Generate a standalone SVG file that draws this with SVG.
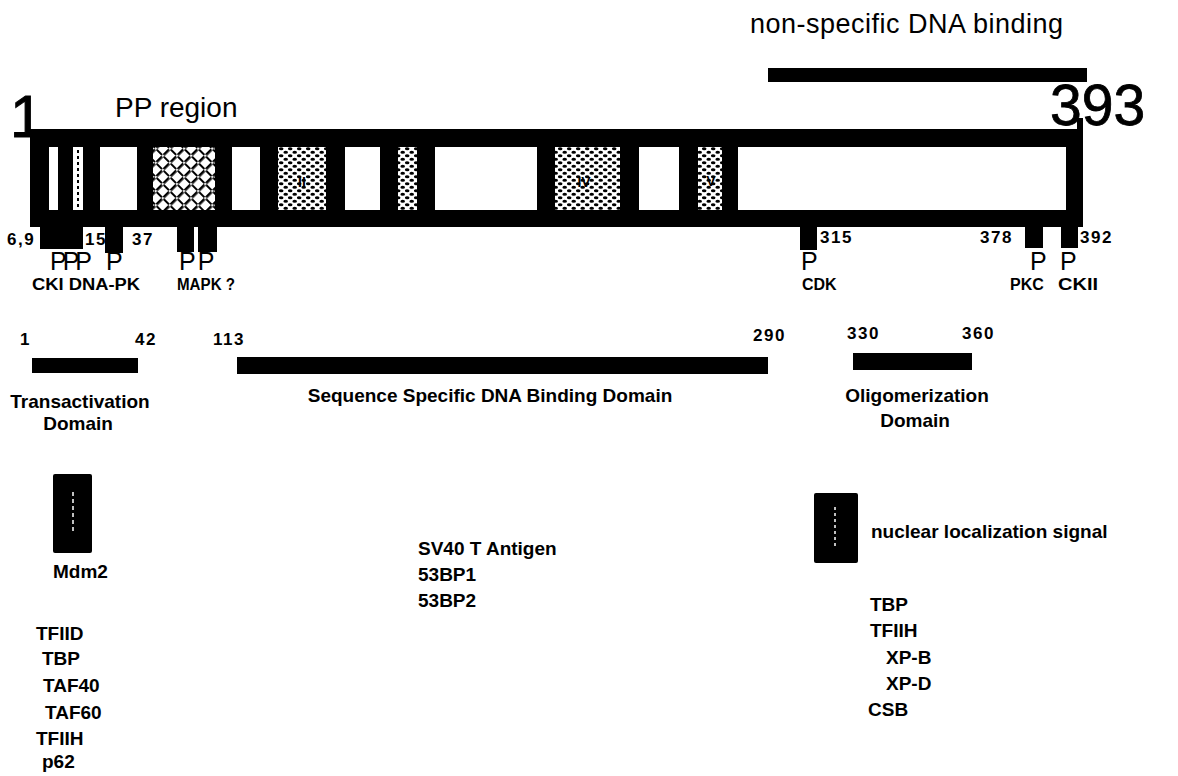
<svg xmlns="http://www.w3.org/2000/svg" width="1178" height="776" viewBox="0 0 1178 776">
<defs>
<style>
text { font-family: "Liberation Sans", Arial, sans-serif; fill: #000; }
.reg { font-weight: normal; }
.b { font-weight: bold; font-size: 19px; }
.k { font-weight: bold; font-size: 16px; }
.n { font-weight: bold; font-size: 17px; letter-spacing: 1.5px; }
.p { font-size: 25px; }
.blk { fill: #000; }
.win { fill: #fff; }
.rn { font-weight: bold; font-size: 14px; }
</style>
<pattern id="stip" width="9" height="7" patternUnits="userSpaceOnUse">
<rect width="9" height="7" fill="#fff"/>
<ellipse cx="2.2" cy="1.8" rx="2.3" ry="1.5" fill="#000"/>
<ellipse cx="6.7" cy="5.3" rx="2.3" ry="1.5" fill="#000"/>
</pattern>
<pattern id="hatch" width="10" height="10" patternUnits="userSpaceOnUse" patternTransform="rotate(-45)">
<rect width="10" height="10" fill="#fff"/>
<rect x="0" y="4" width="10" height="2.6" fill="#000"/>
<rect x="4" y="0" width="2" height="10" fill="#000"/>
<circle cx="5" cy="5.3" r="1.2" fill="#fff"/>
</pattern>
</defs>
<rect width="1178" height="776" fill="#fff"/>

<g id="nonspecific-dna-binding">
<text x="750" y="33" class="reg" font-size="27" textLength="313">non-specific DNA binding</text>
<rect x="768" y="68" width="319" height="14" class="blk"/>
</g>

<g id="protein-bar">
<text x="10" y="137" class="reg" font-size="60" stroke="#000" stroke-width="1">1</text>
<text x="115" y="117" class="reg" font-size="28">PP region</text>
<text x="1050" y="125" class="reg" font-size="57" stroke="#000" stroke-width="0.8">393</text>
<rect x="1077" y="118" width="6" height="14" class="blk"/>
<rect x="30" y="129" width="1053" height="98" class="blk"/>
<rect x="49" y="147" width="9" height="63" class="win"/>
<rect x="73" y="147" width="10" height="63" class="win"/>
<line x1="78" y1="150" x2="78" y2="208" stroke="#000" stroke-width="2" stroke-dasharray="3 3"/>
<rect x="100" y="147" width="37" height="63" class="win"/>
<rect x="153" y="147" width="62" height="63" fill="url(#hatch)"/>
<rect x="232" y="147" width="28" height="63" class="win"/>
<rect x="278" y="147" width="48" height="63" fill="url(#stip)"/>
<text x="302" y="187" class="rn" text-anchor="middle">II</text>
<rect x="345" y="147" width="35" height="63" class="win"/>
<rect x="398" y="147" width="19" height="63" fill="url(#stip)"/>
<rect x="435" y="147" width="102" height="63" class="win"/>
<rect x="555" y="147" width="65" height="63" fill="url(#stip)"/>
<text x="584" y="187" class="rn" text-anchor="middle">IV</text>
<rect x="639" y="147" width="40" height="63" class="win"/>
<rect x="698" y="147" width="24" height="63" fill="url(#stip)"/>
<text x="711" y="186" class="rn" text-anchor="middle">V</text>
<rect x="738" y="147" width="328" height="63" class="win"/>
</g>

<g id="site-ck1-dnapk">
<rect x="40" y="226" width="43" height="23" class="blk"/>
<rect x="105" y="226" width="18" height="27" class="blk"/>
<text x="7" y="245" class="n">6,9</text>
<text x="85" y="245" class="n">15</text>
<text x="132" y="245" class="n">37</text>
<text x="50" y="270" class="p" letter-spacing="-4">PPP</text>
<text x="106" y="270" class="p">P</text>
<text x="32" y="290" class="k" textLength="108" lengthAdjust="spacingAndGlyphs">CKI DNA-PK</text>
</g>
<g id="site-mapk">
<rect x="177" y="226" width="17" height="26" class="blk"/>
<rect x="198" y="226" width="19" height="26" class="blk"/>
<text x="179" y="270" class="p" letter-spacing="2">PP</text>
<text x="177" y="290" class="k" textLength="58" lengthAdjust="spacingAndGlyphs">MAPK ?</text>
</g>
<g id="site-cdk">
<rect x="800" y="226" width="17" height="24" class="blk"/>
<text x="820" y="243" class="n">315</text>
<text x="801" y="270" class="p">P</text>
<text x="802" y="290" class="k">CDK</text>
</g>
<g id="site-pkc">
<rect x="1025" y="226" width="18" height="22" class="blk"/>
<text x="980" y="243" class="n">378</text>
<text x="1030" y="270" class="p">P</text>
<text x="1010" y="290" class="k">PKC</text>
</g>
<g id="site-ckii">
<rect x="1061" y="226" width="17" height="22" class="blk"/>
<text x="1080" y="243" class="n">392</text>
<text x="1060" y="270" class="p">P</text>
<text x="1058" y="290" class="k" textLength="40" lengthAdjust="spacingAndGlyphs">CKII</text>
</g>

<g id="transactivation-domain">
<text x="20" y="345" class="n">1</text>
<text x="135" y="345" class="n">42</text>
<rect x="32" y="358" width="106" height="15" class="blk"/>
<text x="80" y="408" class="b" text-anchor="middle">Transactivation</text>
<text x="78" y="430" class="b" text-anchor="middle">Domain</text>
</g>
<g id="dna-binding-domain">
<text x="213" y="345" class="n">113</text>
<text x="753" y="341" class="n">290</text>
<rect x="237" y="357" width="531" height="17" class="blk"/>
<text x="490" y="402" class="b" text-anchor="middle">Sequence Specific DNA Binding Domain</text>
</g>
<g id="oligomerization-domain">
<text x="847" y="339" class="n">330</text>
<text x="962" y="339" class="n">360</text>
<rect x="853" y="353" width="119" height="17" class="blk"/>
<text x="917" y="402" class="b" text-anchor="middle">Oligomerization</text>
<text x="915" y="427" class="b" text-anchor="middle">Domain</text>
</g>

<g id="mdm2">
<rect x="53" y="474" width="39" height="79" rx="2" class="blk"/>
<line x1="73" y1="492" x2="73" y2="533" stroke="#fff" stroke-width="1.5" stroke-dasharray="4 3"/>
<text x="53" y="578" class="b">Mdm2</text>
</g>
<g id="ta-partners">
<text x="36" y="640" class="b">TFIID</text>
<text x="42" y="665" class="b">TBP</text>
<text x="43" y="692" class="b">TAF40</text>
<text x="45" y="719" class="b">TAF60</text>
<text x="36" y="745" class="b">TFIIH</text>
<text x="42" y="768" class="b">p62</text>
</g>
<g id="dbd-partners">
<text x="418" y="555" class="b">SV40 T Antigen</text>
<text x="418" y="581" class="b">53BP1</text>
<text x="418" y="607" class="b">53BP2</text>
</g>
<g id="nls">
<rect x="814" y="493" width="44" height="70" rx="2" class="blk"/>
<line x1="835" y1="507" x2="835" y2="548" stroke="#fff" stroke-width="1.5" stroke-dasharray="3 3"/>
<text x="871" y="538" class="b">nuclear localization signal</text>
</g>
<g id="ct-partners">
<text x="870" y="611" class="b">TBP</text>
<text x="870" y="637" class="b">TFIIH</text>
<text x="886" y="664" class="b">XP-B</text>
<text x="886" y="690" class="b">XP-D</text>
<text x="868" y="716" class="b">CSB</text>
</g>
</svg>
